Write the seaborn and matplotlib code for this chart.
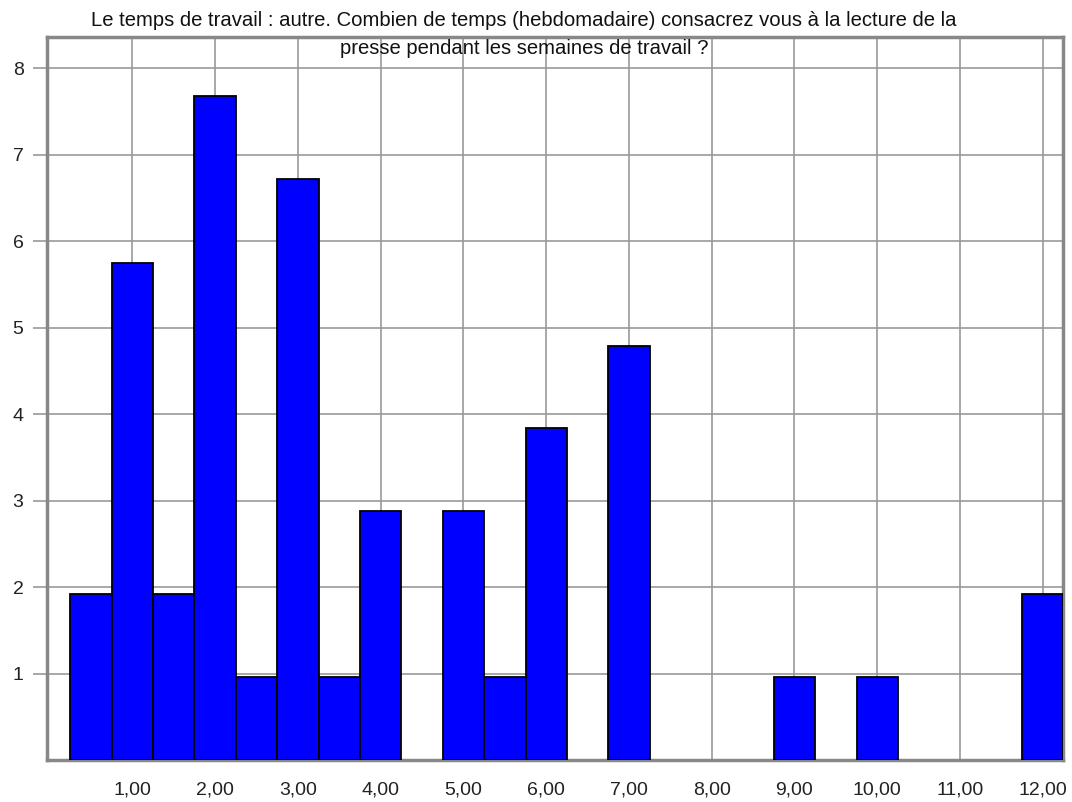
import matplotlib
matplotlib.use('Agg')
import matplotlib.pyplot as plt
import numpy as np
import pandas as pd
import seaborn as sns

# heures hebdomadaires (centre des barres) et pourcentages
heures = [0.5, 1.0, 1.5, 2.0, 2.5, 3.0, 3.5, 4.0, 5.0, 5.5, 6.0, 7.0, 9.0, 10.0, 12.0]
pourcents = [1.92, 5.75, 1.92, 7.68, 0.96, 6.72, 0.96, 2.88, 2.88, 0.96, 3.84, 4.79, 0.96, 0.96, 1.92]
xticks = list(range(1, 13))
xtick_labels = ['%d,00' % t for t in xticks]
yticks = list(range(1, 9))

titre_1 = "Le temps de travail : autre. Combien de temps (hebdomadaire) consacrez vous à la lecture de la"
titre_2 = "presse pendant les semaines de travail ?"

sns.set_style('white')
plt.rcParams['font.family'] = ['Liberation Sans', 'DejaVu Sans']

df = pd.DataFrame({'heures': heures, 'pourcents': pourcents})

fig = plt.figure(figsize=(10.72, 8.02), dpi=100)
ax = fig.add_axes([0.044, 0.052, 0.948, 0.902])

sns.barplot(data=df, x='heures', y='pourcents', native_scale=True, width=1.0,
            color='#0000ff', saturation=1, edgecolor='black', linewidth=1.3,
            ax=ax, zorder=3)

ax.set_xlim(-0.03, 12.25)
ax.set_ylim(0, 8.36)
ax.set_xticks(xticks)
ax.set_xticklabels(xtick_labels, fontsize=14, color='#222222')
ax.set_yticks(yticks)
ax.set_yticklabels([str(t) for t in yticks], fontsize=14, color='#222222')
ax.set_xlabel('')
ax.set_ylabel('')

ax.grid(True, color='#999999', linewidth=1.2, zorder=0)
ax.set_axisbelow(True)
for sp in ax.spines.values():
    sp.set_color('#888888')
    sp.set_linewidth(2.5)

ax.tick_params(axis='y', length=10, width=1.2, color='#999999', pad=7, left=True)
ax.tick_params(axis='x', length=0, pad=15)

fig.text(0.489, 0.975, titre_1, ha='center', va='center', fontsize=14.6, color='#111111')
fig.text(0.489, 0.940, titre_2, ha='center', va='center', fontsize=14.6, color='#111111')

fig.savefig('out.png', dpi=100)
